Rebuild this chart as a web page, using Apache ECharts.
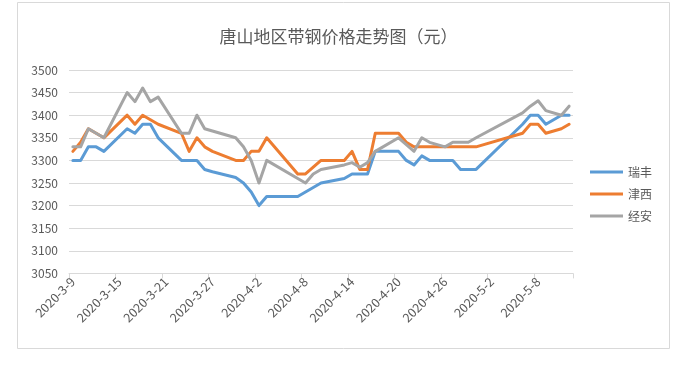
<!DOCTYPE html>
<html>
<head>
<meta charset="utf-8">
<script src="https://cdn.jsdelivr.net/npm/echarts@6/dist/echarts.min.js"></script>
<style>
html,body{margin:0;padding:0;background:#fff;}
#chart{width:677px;height:367px;}
</style>
</head>
<body>
<div id="chart"></div>
<script>
// Axis domain: every calendar day from 2020-3-9 to 2020-5-12
const startDate = '2020-3-9';
const endDate = '2020-5-12';

// Trading dates that carry prices
const tradeDates = ['2020-3-9','2020-3-10','2020-3-11','2020-3-12','2020-3-13',
  '2020-3-16','2020-3-17','2020-3-18','2020-3-19','2020-3-20',
  '2020-3-23','2020-3-24','2020-3-25','2020-3-26','2020-3-27',
  '2020-3-30','2020-3-31','2020-4-1','2020-4-2','2020-4-3',
  '2020-4-7','2020-4-8','2020-4-9','2020-4-10',
  '2020-4-13','2020-4-14','2020-4-15','2020-4-16','2020-4-17',
  '2020-4-20','2020-4-21','2020-4-22','2020-4-23','2020-4-24',
  '2020-4-26','2020-4-27','2020-4-28','2020-4-29','2020-4-30',
  '2020-5-6','2020-5-7','2020-5-8','2020-5-9','2020-5-11','2020-5-12'];

const ruifeng = [3300,3300,3330,3330,3320,
  3370,3360,3380,3380,3350,
  3300,3300,3300,3280,3275,
  3262,3250,3230,3200,3220,
  3220,3230,3240,3250,
  3260,3270,3270,3270,3320,
  3320,3300,3290,3310,3300,
  3300,3300,3280,3280,3280,
  3380,3400,3400,3380,3400,3400];

const jinxi = [3320,3340,3370,3360,3350,
  3400,3380,3400,3390,3380,
  3360,3320,3350,3330,3320,
  3300,3300,3320,3320,3350,
  3270,3270,3285,3300,
  3300,3320,3280,3280,3360,
  3360,3340,3330,3330,3330,
  3330,3330,3330,3330,3330,
  3360,3380,3380,3360,3370,3380];

const jingan = [3330,3330,3370,3360,3350,
  3450,3430,3460,3430,3440,
  3360,3360,3400,3370,3365,
  3350,3330,3300,3250,3300,
  3260,3250,3270,3280,
  3290,3295,3285,3295,3320,
  3350,3335,3320,3350,3340,
  3330,3340,3340,3340,3350,
  3405,3420,3432,3410,3400,3420];

const seriesNames = ['瑞丰','津西','经安'];
const seriesColors = ['#5b9bd5','#ed7d31','#a5a5a5'];
const titleText = '唐山地区带钢价格走势图（元）';

function fmt(d){ return d.getFullYear() + '-' + (d.getMonth()+1) + '-' + d.getDate(); }
function parse(s){ const p = s.split('-').map(Number); return new Date(p[0], p[1]-1, p[2]); }

const categories = [];
for (let d = parse(startDate); d <= parse(endDate); d.setDate(d.getDate()+1)) {
  categories.push(fmt(d));
}

function align(values){
  const map = {};
  tradeDates.forEach((t,i)=>{ map[t] = values[i]; });
  return categories.map(c => (c in map) ? map[c] : null);
}

const font = '"Noto Sans CJK SC", "Noto Sans", sans-serif';
const textColor = '#595959';

const chart = echarts.init(document.getElementById('chart'), null, {renderer:'canvas'});
chart.setOption({
  backgroundColor: '#ffffff',
  animation: false,
  graphic: [{
    type: 'rect', silent: true, z: -1,
    shape: {x: 17.5, y: 2.5, width: 652, height: 346},
    style: {fill: 'none', stroke: '#d9d9d9', lineWidth: 1}
  }],
  title: {
    text: titleText,
    left: 'center',
    top: 28,
    padding: 0,
    textStyle: {fontFamily: font, fontSize: 17, fontWeight: 'normal', color: textColor}
  },
  legend: {
    orient: 'vertical',
    left: 590,
    top: 164,
    padding: 0,
    icon: 'rect',
    itemWidth: 33,
    itemHeight: 3,
    itemGap: 6,
    data: seriesNames,
    textStyle: {fontFamily: font, fontSize: 12, color: textColor, lineHeight: 16}
  },
  grid: {left: 69, top: 70, width: 504, height: 203.4, containLabel: false},
  xAxis: {
    type: 'category',
    data: categories,
    boundaryGap: true,
    axisLine: {lineStyle: {color: '#d9d9d9', width: 1}},
    axisTick: {show: true, interval: 5, length: 5, lineStyle: {color: '#d9d9d9'}},
    axisLabel: {interval: 5, rotate: 45, margin: 6, color: textColor, fontFamily: font, fontSize: 12.5},
    splitLine: {show: false}
  },
  yAxis: {
    type: 'value',
    min: 3050, max: 3500, interval: 50,
    axisLine: {show: false},
    axisTick: {show: false},
    axisLabel: {margin: 11, color: textColor, fontFamily: font, fontSize: 12, formatter: v => String(v)},
    splitLine: {lineStyle: {color: '#d9d9d9', width: 1}}
  },
  series: seriesNames.map((name, k) => ({
    name: name,
    type: 'line',
    data: align([ruifeng, jinxi, jingan][k]),
    connectNulls: true,
    symbol: 'none',
    showSymbol: false,
    color: seriesColors[k],
    lineStyle: {width: 3, color: seriesColors[k], join: 'round', cap: 'round'},
    z: 2 + k
  }))
});
</script>
</body>
</html>
